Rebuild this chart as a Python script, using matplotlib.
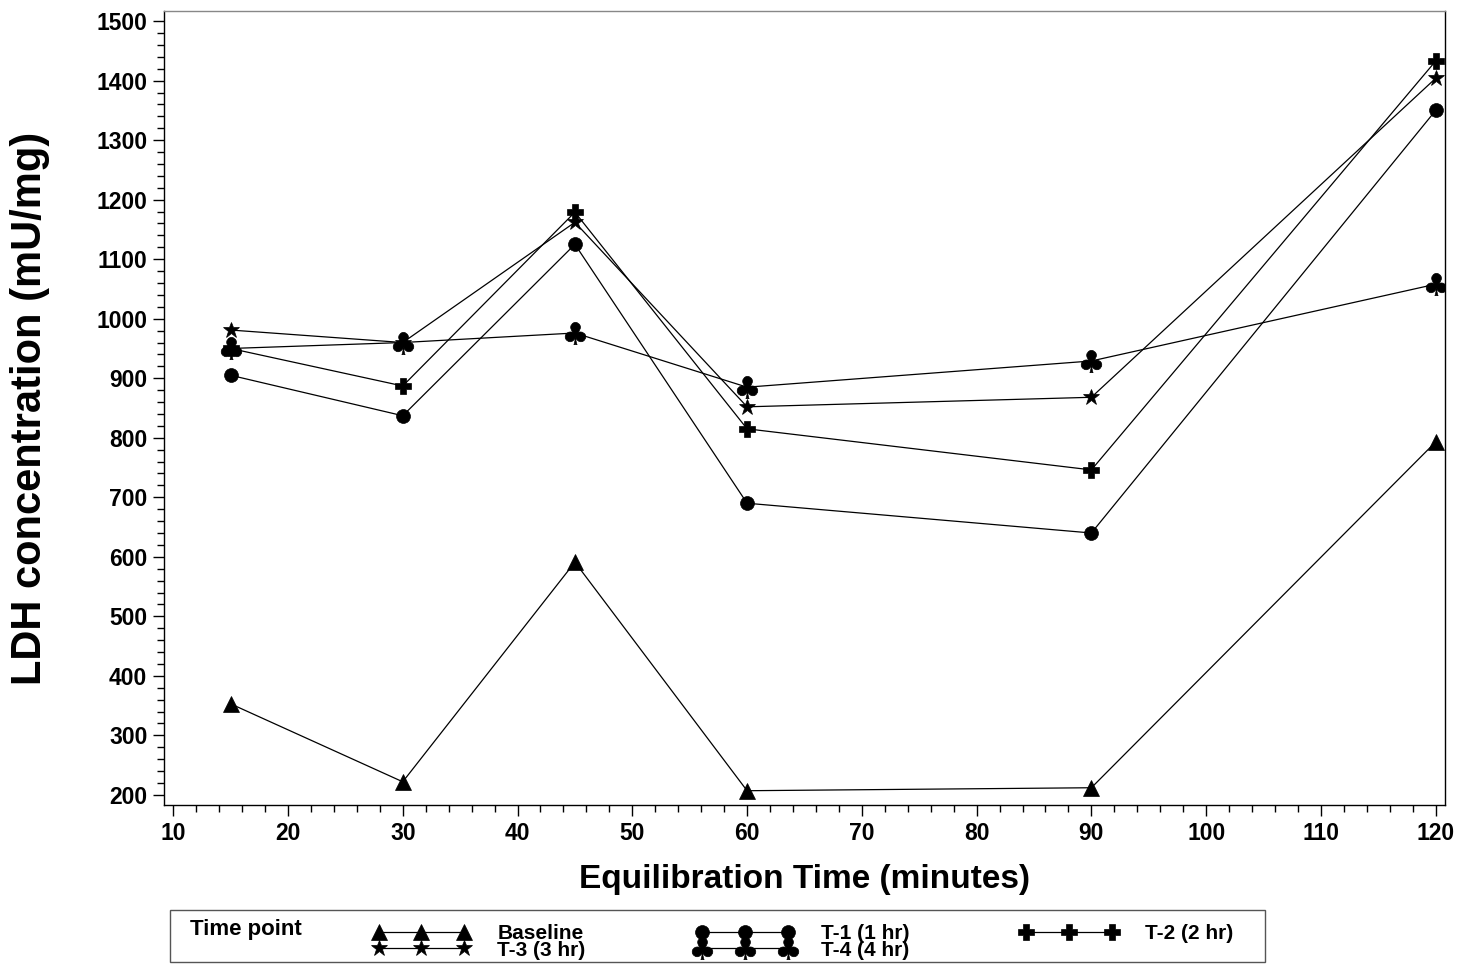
import numpy as np
import matplotlib
matplotlib.use('Agg')
import matplotlib.pyplot as plt
from matplotlib.patches import Rectangle
from matplotlib.ticker import MultipleLocator

plt.rcParams['font.family'] = ['Liberation Sans', 'DejaVu Sans']
plt.rcParams['font.weight'] = 'bold'

# Equilibration time [minutes]
times = [15, 30, 45, 60, 90, 120]

# LDH concentration [mU/mg] per time point
baseline = [353, 222, 591, 207, 212, 793]
t1 = [905, 837, 1125, 690, 640, 1350]
t2 = [950, 887, 1179, 815, 746, 1433]
t3 = [981, 960, 1162, 852, 868, 1404]
t4 = [950, 960, 976, 885, 929, 1058]

labels = ['Baseline', 'T-1 (1 hr)', 'T-2 (2 hr)', 'T-3 (3 hr)', 'T-4 (4 hr)']
series = [baseline, t1, t2, t3, t4]
markers = ['^', 'o', 'P', '*', r'$\clubsuit$']
msizes = [11, 10, 11, 12, 16]

fig = plt.figure(figsize=(14.58, 9.65), dpi=100)
ax = fig.add_axes([0.1125, 0.1658, 0.991 - 0.1125, 0.9886 - 0.1658])

handles = {}
for lab, y, m, ms in zip(labels, series, markers, msizes):
    h, = ax.plot(times, y, color='black', lw=0.9, marker=m, markersize=ms,
                 markerfacecolor='black', markeredgecolor='black',
                 markeredgewidth=0.5, label=lab)
    handles[lab] = h

ax.set_xlim(9.2, 120.8)
ax.set_ylim(183, 1517)
ax.xaxis.set_major_locator(MultipleLocator(10))
ax.xaxis.set_minor_locator(MultipleLocator(2))
ax.yaxis.set_major_locator(MultipleLocator(100))
ax.yaxis.set_minor_locator(MultipleLocator(20))
ax.tick_params(which='major', length=8, width=1, labelsize=16.5, pad=4)
ax.tick_params(which='minor', length=5, width=1)
for lbl in ax.get_xticklabels() + ax.get_yticklabels():
    lbl.set_fontweight('bold')
ax.spines['top'].set_color('#888888')
for s in ax.spines.values():
    s.set_linewidth(1)

ax.set_xlabel('Equilibration Time (minutes)', fontsize=24, fontweight='bold', labelpad=14)
ax.set_ylabel('LDH concentration (mU/mg)', fontsize=30, fontweight='bold', labelpad=33)

# legend box at the bottom
box = Rectangle((170 / 1458, 1 - 962 / 965), (1265 - 170) / 1458, (962 - 910) / 965,
                transform=fig.transFigure, fill=False, edgecolor='#555555', lw=1)
fig.add_artist(box)
fig.text(190 / 1458, 1 - 930 / 965, 'Time point', fontsize=16, fontweight='bold',
         va='center', ha='left')
order = ['Baseline', 'T-3 (3 hr)', 'T-1 (1 hr)', 'T-4 (4 hr)', 'T-2 (2 hr)']
leg = fig.legend([handles[k] for k in order], order, ncol=3, numpoints=3,
                 loc='upper left', bbox_to_anchor=(362 / 1458, 1 - 914 / 965),
                 frameon=False, prop={'weight': 'bold', 'size': 15},
                 handlelength=4.7, handletextpad=1.3, columnspacing=5.3,
                 labelspacing=-0.13, borderpad=0, markerscale=1.0)

fig.savefig('out.png', dpi=100)
